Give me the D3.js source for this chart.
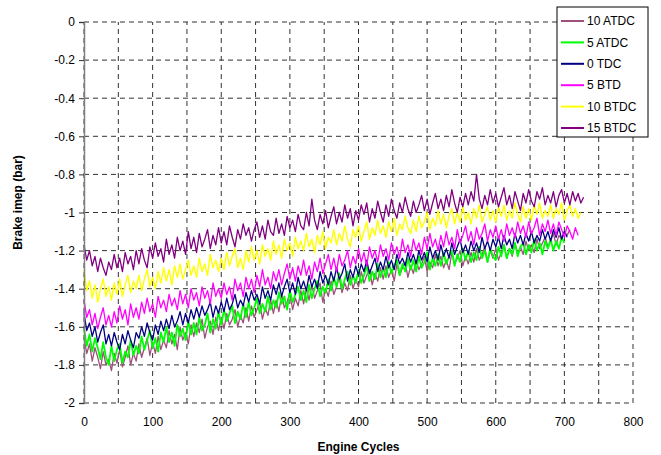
<!DOCTYPE html>
<html>
<meta charset="utf-8">
<script src="https://d3js.org/d3.v7.min.js"></script>
<style>
  body { margin: 0; background: #fff; }
  text { font-family: Arial, "Liberation Sans", sans-serif; }
</style>
<body>
<div id="my_dataviz"></div>
<script>
    // brake imep readings, one value every 4 engine cycles
    const cycleStep = 4;

    const atdc10 = [
      -1.66, -1.74, -1.69, -1.78, -1.71, -1.76, -1.82, -1.73, -1.80, -1.77,
      -1.83, -1.74, -1.79, -1.72, -1.81, -1.76, -1.70, -1.80, -1.74, -1.78,
      -1.69, -1.76, -1.71, -1.66, -1.75, -1.68, -1.74, -1.65, -1.72, -1.67,
      -1.71, -1.62, -1.69, -1.64, -1.72, -1.60, -1.67, -1.63, -1.69, -1.59,
      -1.65, -1.58, -1.63, -1.56, -1.66, -1.60, -1.57, -1.64, -1.55, -1.62,
      -1.55, -1.61, -1.53, -1.59, -1.56, -1.51, -1.60, -1.54, -1.58, -1.50,
      -1.57, -1.49, -1.55, -1.51, -1.47, -1.56, -1.50, -1.54, -1.46, -1.53,
      -1.46, -1.52, -1.43, -1.50, -1.47, -1.42, -1.51, -1.45, -1.49, -1.41,
      -1.48, -1.40, -1.46, -1.38, -1.45, -1.41, -1.37, -1.47, -1.40, -1.44,
      -1.36, -1.43, -1.39, -1.34, -1.42, -1.37, -1.41, -1.33, -1.40, -1.35,
      -1.39, -1.31, -1.37, -1.33, -1.30, -1.38, -1.32, -1.36, -1.29, -1.35,
      -1.28, -1.34, -1.30, -1.36, -1.27, -1.33, -1.29, -1.26, -1.34, -1.28,
      -1.32, -1.25, -1.30, -1.27, -1.23, -1.31, -1.26, -1.29, -1.22, -1.28,
      -1.23, -1.29, -1.25, -1.30, -1.21, -1.27, -1.24, -1.20, -1.28, -1.23,
      -1.27, -1.21, -1.26, -1.19, -1.25, -1.22, -1.18, -1.26, -1.20, -1.24,
      -1.19, -1.25, -1.21, -1.17, -1.24, -1.19, -1.23, -1.16, -1.22, -1.18,
      -1.22, -1.15, -1.20, -1.17, -1.21, -1.14, -1.19, -1.16, -1.13, -1.18,
      -1.15, -1.11, -1.17, -1.12, -1.14, -1.10, -1.12, -1.09
    ];
    const atdc5 = [
      -1.61, -1.70, -1.64, -1.73, -1.66, -1.71, -1.77, -1.68, -1.76, -1.80,
      -1.70, -1.78, -1.72, -1.69, -1.79, -1.73, -1.76, -1.67, -1.75, -1.70,
      -1.74, -1.65, -1.72, -1.67, -1.62, -1.71, -1.66, -1.73, -1.63, -1.68,
      -1.60, -1.68, -1.63, -1.70, -1.59, -1.65, -1.61, -1.67, -1.57, -1.64,
      -1.58, -1.64, -1.55, -1.62, -1.59, -1.53, -1.63, -1.56, -1.61, -1.52,
      -1.59, -1.51, -1.57, -1.53, -1.49, -1.58, -1.52, -1.56, -1.48, -1.55,
      -1.47, -1.54, -1.50, -1.45, -1.53, -1.48, -1.52, -1.44, -1.51, -1.46,
      -1.50, -1.42, -1.48, -1.44, -1.51, -1.41, -1.47, -1.43, -1.39, -1.46,
      -1.41, -1.47, -1.38, -1.45, -1.40, -1.36, -1.44, -1.39, -1.42, -1.35,
      -1.41, -1.34, -1.39, -1.32, -1.40, -1.35, -1.31, -1.38, -1.33, -1.37,
      -1.30, -1.37, -1.33, -1.28, -1.36, -1.31, -1.35, -1.27, -1.34, -1.29,
      -1.34, -1.26, -1.32, -1.28, -1.25, -1.33, -1.27, -1.31, -1.24, -1.30,
      -1.25, -1.31, -1.23, -1.29, -1.26, -1.21, -1.30, -1.24, -1.28, -1.22,
      -1.28, -1.21, -1.27, -1.23, -1.20, -1.28, -1.22, -1.26, -1.19, -1.25,
      -1.20, -1.26, -1.21, -1.25, -1.18, -1.24, -1.20, -1.26, -1.19, -1.23,
      -1.25, -1.18, -1.23, -1.17, -1.24, -1.19, -1.22, -1.16, -1.23, -1.18,
      -1.16, -1.22, -1.17, -1.21, -1.14, -1.20, -1.16, -1.22, -1.15, -1.19,
      -1.14, -1.20, -1.15, -1.19, -1.13, -1.16
    ];
    const tdc0 = [
      -1.53, -1.62, -1.58, -1.65, -1.60, -1.68, -1.63, -1.59, -1.69, -1.64,
      -1.70, -1.63, -1.68, -1.72, -1.64, -1.69, -1.62, -1.67, -1.71, -1.63,
      -1.66, -1.60, -1.65, -1.58, -1.63, -1.67, -1.59, -1.64, -1.57, -1.62,
      -1.56, -1.61, -1.54, -1.60, -1.57, -1.52, -1.59, -1.53, -1.58, -1.51,
      -1.56, -1.50, -1.55, -1.49, -1.54, -1.51, -1.47, -1.55, -1.49, -1.53,
      -1.47, -1.52, -1.45, -1.51, -1.48, -1.43, -1.50, -1.46, -1.49, -1.42,
      -1.47, -1.41, -1.46, -1.43, -1.48, -1.39, -1.45, -1.41, -1.46, -1.38,
      -1.43, -1.37, -1.44, -1.39, -1.35, -1.42, -1.37, -1.43, -1.34, -1.40,
      -1.36, -1.41, -1.33, -1.39, -1.35, -1.40, -1.31, -1.37, -1.33, -1.38,
      -1.31, -1.36, -1.29, -1.35, -1.32, -1.27, -1.36, -1.30, -1.34, -1.28,
      -1.33, -1.27, -1.31, -1.25, -1.32, -1.28, -1.24, -1.31, -1.26, -1.30,
      -1.23, -1.29, -1.25, -1.30, -1.22, -1.27, -1.24, -1.28, -1.21, -1.26,
      -1.22, -1.27, -1.20, -1.25, -1.21, -1.26, -1.18, -1.24, -1.20, -1.25,
      -1.17, -1.23, -1.19, -1.24, -1.16, -1.22, -1.18, -1.14, -1.21, -1.17,
      -1.22, -1.15, -1.20, -1.16, -1.21, -1.13, -1.19, -1.15, -1.20, -1.14,
      -1.18, -1.13, -1.19, -1.12, -1.17, -1.14, -1.19, -1.11, -1.16, -1.12,
      -1.17, -1.11, -1.15, -1.10, -1.16, -1.12, -1.15, -1.09, -1.14, -1.10,
      -1.15, -1.09, -1.13, -1.08, -1.14, -1.10, -1.13
    ];
    const btd5 = [
      -1.46, -1.55, -1.51, -1.59, -1.53, -1.61, -1.55, -1.50, -1.59, -1.54,
      -1.60, -1.52, -1.58, -1.49, -1.56, -1.51, -1.59, -1.48, -1.55, -1.50,
      -1.56, -1.47, -1.53, -1.45, -1.52, -1.48, -1.55, -1.44, -1.50, -1.46,
      -1.52, -1.43, -1.49, -1.45, -1.51, -1.41, -1.48, -1.43, -1.50, -1.40,
      -1.46, -1.42, -1.49, -1.39, -1.45, -1.41, -1.48, -1.37, -1.44, -1.40,
      -1.45, -1.37, -1.43, -1.39, -1.46, -1.35, -1.41, -1.37, -1.44, -1.34,
      -1.40, -1.35, -1.42, -1.33, -1.39, -1.30, -1.38, -1.34, -1.40, -1.31,
      -1.36, -1.30, -1.38, -1.32, -1.27, -1.35, -1.29, -1.36, -1.28, -1.33,
      -1.25, -1.33, -1.28, -1.35, -1.26, -1.31, -1.24, -1.32, -1.27, -1.22,
      -1.30, -1.24, -1.31, -1.22, -1.28, -1.25, -1.20, -1.29, -1.23, -1.27,
      -1.19, -1.26, -1.21, -1.28, -1.18, -1.24, -1.20, -1.26, -1.17, -1.23,
      -1.19, -1.25, -1.16, -1.22, -1.18, -1.24, -1.14, -1.21, -1.17, -1.23,
      -1.14, -1.20, -1.16, -1.22, -1.13, -1.19, -1.11, -1.18, -1.14, -1.20,
      -1.12, -1.18, -1.10, -1.17, -1.13, -1.19, -1.09, -1.16, -1.12, -1.07,
      -1.15, -1.10, -1.17, -1.08, -1.14, -1.11, -1.06, -1.15, -1.09, -1.13,
      -1.07, -1.14, -1.09, -1.15, -1.06, -1.12, -1.08, -1.13, -1.05, -1.11,
      -1.07, -1.13, -1.05, -1.11, -1.08, -1.03, -1.12, -1.06, -1.10, -1.04,
      -1.11, -1.06, -1.12, -1.05, -1.09, -1.13, -1.07, -1.10, -1.14, -1.08,
      -1.12
    ];
    const btdc10 = [
      -1.30, -1.41, -1.36, -1.45, -1.38, -1.47, -1.40, -1.35, -1.44, -1.39,
      -1.46, -1.37, -1.43, -1.35, -1.44, -1.38, -1.33, -1.42, -1.36, -1.40,
      -1.33, -1.41, -1.35, -1.30, -1.39, -1.34, -1.40, -1.31, -1.37, -1.29,
      -1.36, -1.30, -1.38, -1.28, -1.34, -1.27, -1.35, -1.30, -1.25, -1.33,
      -1.28, -1.34, -1.24, -1.31, -1.27, -1.33, -1.22, -1.29, -1.25, -1.31,
      -1.24, -1.30, -1.21, -1.28, -1.23, -1.19, -1.29, -1.24, -1.30, -1.20,
      -1.26, -1.18, -1.25, -1.20, -1.27, -1.17, -1.23, -1.19, -1.25, -1.15,
      -1.22, -1.17, -1.24, -1.14, -1.20, -1.16, -1.23, -1.13, -1.19, -1.15,
      -1.20, -1.11, -1.18, -1.14, -1.21, -1.12, -1.17, -1.10, -1.19, -1.13,
      -1.16, -1.09, -1.17, -1.11, -1.15, -1.07, -1.14, -1.18, -1.09, -1.13,
      -1.07, -1.15, -1.10, -1.05, -1.14, -1.08, -1.12, -1.04, -1.11, -1.07,
      -1.13, -1.05, -1.10, -1.03, -1.12, -1.06, -1.09, -1.02, -1.08, -1.11,
      -1.04, -1.10, -1.02, -1.08, -1.05, -1.00, -1.09, -1.03, -1.07, -0.99,
      -1.06, -1.01, -1.08, -1.02, -0.98, -1.06, -1.00, -1.05, -0.97, -1.04,
      -1.00, -1.06, -0.98, -1.03, -0.96, -1.05, -1.01, -0.97, -1.04, -0.99,
      -1.05, -0.97, -1.02, -0.96, -1.04, -0.99, -1.03, -0.95, -1.01, -1.05,
      -0.97, -1.03, -0.98, -1.04, -0.96, -1.01, -0.95, -1.03, -0.99, -1.02,
      -0.96, -1.03, -0.98, -1.01, -0.95, -1.04, -0.99, -0.96, -1.02, -0.98,
      -1.03, -1.00
    ];
    const btdc15 = [
      -1.17, -1.25, -1.20, -1.28, -1.23, -1.31, -1.24, -1.29, -1.33, -1.26,
      -1.30, -1.22, -1.29, -1.24, -1.31, -1.21, -1.27, -1.23, -1.30, -1.20,
      -1.27, -1.19, -1.25, -1.29, -1.18, -1.24, -1.16, -1.23, -1.19, -1.26,
      -1.14, -1.22, -1.17, -1.24, -1.13, -1.20, -1.15, -1.22, -1.10, -1.19,
      -1.13, -1.21, -1.11, -1.18, -1.14, -1.09, -1.19, -1.12, -1.17, -1.08,
      -1.16, -1.10, -1.17, -1.07, -1.13, -1.18, -1.09, -1.14, -1.06, -1.12,
      -1.08, -1.15, -1.09, -1.05, -1.13, -1.07, -1.14, -1.04, -1.10, -1.12,
      -1.03, -1.11, -1.06, -1.12, -1.02, -1.08, -1.04, -1.10, -1.01, -1.07,
      -1.09, -1.00, -1.07, -0.93, -1.04, -1.09, -1.01, -1.06, -0.99, -1.08,
      -1.02, -0.97, -1.06, -1.00, -1.05, -0.96, -1.03, -0.98, -1.07, -0.99,
      -1.04, -0.96, -1.01, -0.95, -1.05, -0.98, -1.03, -0.94, -1.00, -1.05,
      -0.96, -1.02, -0.93, -0.99, -1.03, -0.95, -1.00, -0.92, -0.98, -1.02,
      -0.94, -1.00, -0.96, -0.91, -0.99, -0.93, -1.01, -0.95, -0.90, -0.98,
      -0.93, -0.99, -0.91, -0.97, -0.88, -0.95, -1.00, -0.92, -0.97, -0.90,
      -0.96, -0.89, -0.94, -0.80, -0.93, -0.98, -0.91, -0.96, -0.88, -0.95,
      -0.90, -0.97, -0.92, -0.87, -0.96, -0.91, -0.98, -0.89, -0.94, -0.99,
      -0.90, -0.95, -0.88, -0.94, -0.97, -0.89, -0.93, -0.87, -0.96, -0.91,
      -0.95, -0.89, -0.97, -0.91, -0.88, -0.95, -0.90, -0.96, -0.89, -0.94,
      -0.90, -0.95, -0.92
    ];

    const seriesNames = ["10 ATDC", "5 ATDC", "0 TDC", "5 BTD", "10 BTDC", "15 BTDC"];
    const seriesValues = [atdc10, atdc5, tdc0, btd5, btdc10, btdc15];
    const seriesColors = ["#9e4f7c", "#00ff00", "#000080", "#ff00ff", "#ffff00", "#800080"];
    const seriesWidths = [1.3, 1.8, 1.3, 1.3, 1.4, 1.3];

    const xTicks = [0, 100, 200, 300, 400, 500, 600, 700, 800];
    const yTicks = [0, -0.2, -0.4, -0.6, -0.8, -1, -1.2, -1.4, -1.6, -1.8, -2];

    // set the dimensions and margins of the graph
    const margin = {top: 22, right: 28, bottom: 52, left: 84},
        width = 661 - margin.left - margin.right,
        height = 455 - margin.top - margin.bottom;

    const svg0 = d3.select("#my_dataviz")
        .append("svg")
        .attr("width", 661)
        .attr("height", 455);

    const svg = svg0.append("g")
        .attr("transform", "translate(" + margin.left + "," + margin.top + ")");

    const x = d3.scaleLinear().domain([0, 800]).range([0, width]);
    const y = d3.scaleLinear().domain([-2, 0]).range([height, 0]);

    // dashed grid
    svg.append("g")
      .selectAll("line")
      .data(d3.range(0, 801, 50))
      .join("line")
        .attr("x1", d => x(d)).attr("x2", d => x(d))
        .attr("y1", height).attr("y2", 0)
        .attr("stroke", "#333")
        .attr("stroke-dasharray", "5,4");

    svg.append("g")
      .selectAll("line")
      .data(yTicks)
      .join("line")
        .attr("x1", 0).attr("x2", width)
        .attr("y1", d => y(d)).attr("y2", d => y(d))
        .attr("stroke", "#333")
        .attr("stroke-dasharray", "5,4");

    // lines
    const line = d3.line()
      .x((d, i) => x(i * cycleStep))
      .y(d => y(d));

    seriesValues.forEach(function(vals, k) {
      svg.append("path")
        .datum(vals)
        .attr("fill", "none")
        .attr("stroke", seriesColors[k])
        .attr("stroke-width", seriesWidths[k])
        .attr("stroke-linejoin", "round")
        .attr("d", line);
    });

    // Y axis
    const yAxis = svg.append("g")
      .call(d3.axisLeft(y).tickValues(yTicks).tickSize(5).tickPadding(4)
        .tickFormat(d => String(+d.toFixed(1))));
    yAxis.select(".domain").attr("stroke", "#808080").attr("stroke-width", 1.5);
    yAxis.selectAll(".tick line").attr("stroke", "#333");
    yAxis.selectAll("text").style("font-size", "12px").attr("fill", "#000");

    // X axis labels
    const xAxis = svg.append("g")
      .attr("transform", "translate(0," + height + ")")
      .call(d3.axisBottom(x).tickValues(xTicks).tickSize(0).tickPadding(14));
    xAxis.select(".domain").remove();
    xAxis.selectAll("text").style("font-size", "12px").attr("fill", "#000");

    // axis titles
    svg.append("text")
      .attr("x", width / 2)
      .attr("y", height + 48)
      .attr("text-anchor", "middle")
      .style("font-size", "12px")
      .style("font-weight", "bold")
      .text("Engine Cycles");

    svg.append("text")
      .attr("transform", "rotate(-90)")
      .attr("x", -height / 2 + 10)
      .attr("y", -62)
      .attr("text-anchor", "middle")
      .style("font-size", "12px")
      .style("font-weight", "bold")
      .text("Brake imep (bar)");

    // legend
    const legend = svg0.append("g").attr("transform", "translate(557,7)");
    legend.append("rect")
      .attr("width", 91).attr("height", 130)
      .attr("fill", "#fff").attr("stroke", "#000");
    seriesNames.forEach(function(name, k) {
      const row = legend.append("g").attr("transform", "translate(0," + (14 + k * 21.4) + ")");
      row.append("line")
        .attr("x1", 4).attr("x2", 27)
        .attr("stroke", seriesColors[k]).attr("stroke-width", 2);
      row.append("text")
        .attr("x", 30).attr("dy", "0.35em")
        .style("font-size", "12px")
        .text(name);
    });
</script>
</body>
</html>
